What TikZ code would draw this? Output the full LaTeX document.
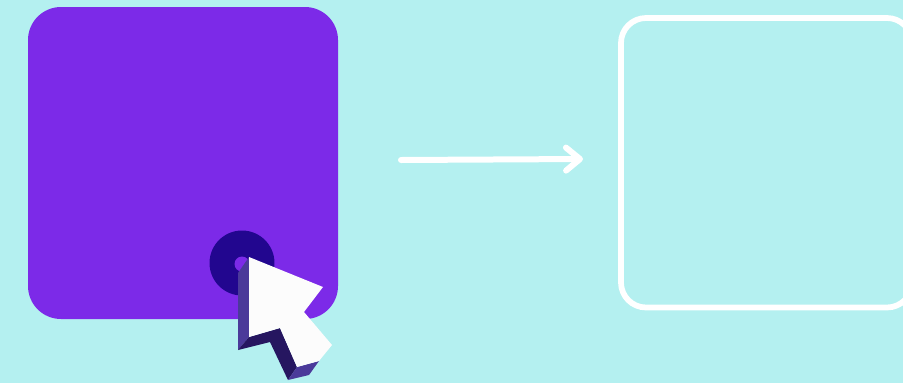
\documentclass[tikz,border=0pt]{standalone}
\usepackage{tikz}
\usetikzlibrary{arrows.meta}
\definecolor{pagebg}{HTML}{B4F0F0}
\definecolor{cardpurple}{HTML}{7C2AE8}
\definecolor{ringblue}{HTML}{22068F}
\definecolor{cursorside}{HTML}{4B3A9A}
\definecolor{cursordark}{HTML}{261660}
\definecolor{cursorwhite}{HTML}{FCFCFC}
\begin{document}
\begin{tikzpicture}[
    x=0.02cm,
    y=-0.02cm,
    full card/.style={fill=cardpurple, rounded corners=0.66cm},
    empty card/.style={draw=white, line width=0.115cm, rounded corners=0.5cm},
    move arrow/.style={
        draw=white,
        line width=0.12cm,
        line cap=round,
        -{Straight Barb[round, length=0.28cm, width=0.46cm]}
    }
  ]

  \fill[pagebg] (0,0) rectangle (903,383);
  \useasboundingbox (0,0) rectangle (903,383);

  \coordinate (card_a) at (28,7);
  \coordinate (card_b) at (338,319);
  \coordinate (empty_a) at (621,18);
  \coordinate (empty_b) at (912,307.5);

  \coordinate (arrow_start) at (401,160);
  \coordinate (arrow_end) at (583,159);

  \coordinate (ring_mid) at (242,263);

  \fill[full card] (card_a) rectangle (card_b);
  \begin{scope}
    \clip (0,0) rectangle (903,383);
    \draw[empty card] (empty_a) rectangle (empty_b);
  \end{scope}
  \draw[move arrow] (arrow_start) -- (arrow_end);

  \fill[ringblue] (ring_mid) circle (0.65cm);
  \fill[cardpurple] (242,264) circle (0.15cm);

  % cursor
  \coordinate (tip) at (249,257);
  \coordinate (tip_back) at (238,273);
  \coordinate (wing_r) at (323,287);
  \coordinate (neck_r) at (304,312);
  \coordinate (tail_r) at (332,345);
  \coordinate (tail_b) at (319,361);
  \coordinate (tail_l) at (297,367);
  \coordinate (neck_l) at (280,328);
  \coordinate (wing_l) at (249,337);
  \coordinate (wing_back) at (238,350);
  \coordinate (neck_back) at (270,342);
  \coordinate (tail_back) at (288,380);
  \coordinate (tail_low) at (309,375);

  \fill[cursorside] (tip) -- (tip_back) -- (wing_back) -- (wing_l) -- cycle;
  \fill[cursordark] (wing_back) -- (wing_l) -- (neck_l) -- (tail_l) -- (tail_back) -- (neck_back) -- cycle;
  \fill[cursorside] (tail_l) -- (tail_b) -- (tail_low) -- (tail_back) -- cycle;
  \fill[cursorwhite] (tip) -- (wing_r) -- (neck_r) -- (tail_r) -- (tail_b) -- (tail_l) -- (neck_l) -- (wing_l) -- cycle;

\end{tikzpicture}
\end{document}
